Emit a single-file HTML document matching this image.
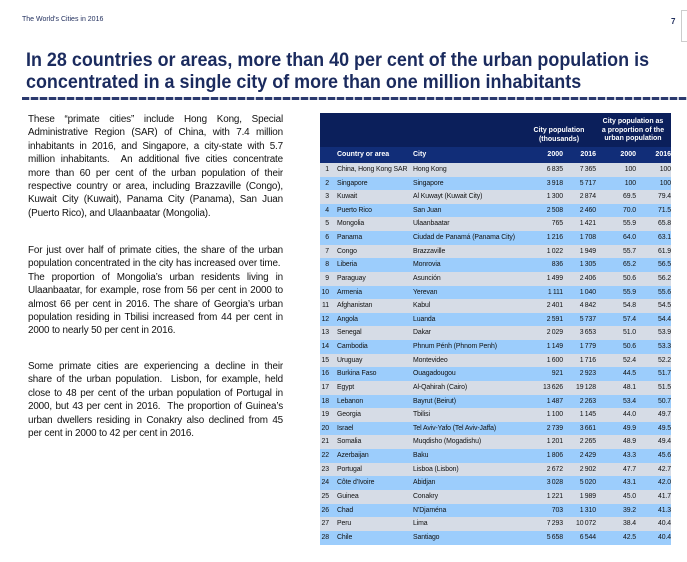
<!DOCTYPE html>
<html><head><meta charset="utf-8"><style>
body{margin:0;width:687px;height:562px;background:#fff;position:relative;overflow:hidden;font-family:"Liberation Sans",sans-serif}
.a{position:absolute;white-space:nowrap}
.p{position:absolute;left:28px;width:255px;font-size:9.9px;letter-spacing:-0.15px;line-height:13.4px;color:#111;text-align:justify}
.c{position:absolute;font-size:6.9px;letter-spacing:-0.1px;color:#111;white-space:nowrap;line-height:13.6px}
.h{position:absolute;font-size:7px;color:#fff;font-weight:bold;white-space:nowrap}
</style></head><body>
<div class="a" style="left:22px;top:16px;font-size:7px;color:#1f2d5c">The World's Cities in 2016</div>
<div class="a" style="left:671px;top:17px;font-size:8px;font-weight:bold;color:#1f2d5c">7</div>
<div style="position:absolute;left:681px;top:10px;width:6px;height:30px;border-top:1px solid #ccc;border-left:1px solid #ccc;border-bottom:1px solid #ccc"></div>
<div class="a" style="left:26px;top:49px;font-size:19.5px;line-height:22px;font-weight:bold;color:#1b2b5e;transform:scaleX(0.92);transform-origin:0 0">In 28 countries or areas, more than 40 per cent of the urban population is<br>concentrated in a single city of more than one million inhabitants</div>
<div style="position:absolute;left:22px;top:97px;width:665px;height:3px;background:repeating-linear-gradient(90deg,#2b3a6e 0 7px,#c4c9d8 7px 9px)"></div>
<div class="p" style="top:113px">These “primate cities” include Hong Kong, Special Administrative Region (SAR) of China, with 7.4 million inhabitants in 2016, and Singapore, a city-state with 5.7 million inhabitants.&nbsp; An additional five cities concentrate more than 60 per cent of the urban population of their respective country or area, including Brazzaville (Congo), Kuwait City (Kuwait), Panama City (Panama), San Juan (Puerto Rico), and Ulaanbaatar (Mongolia).</div>
<div class="p" style="top:244px">For just over half of primate cities, the share of the urban population concentrated in the city has increased over time.&nbsp; The proportion of Mongolia’s urban residents living in Ulaanbaatar, for example, rose from 56 per cent in 2000 to almost 66 per cent in 2016. The share of Georgia’s urban population residing in Tbilisi increased from 44 per cent in 2000 to nearly 50 per cent in 2016.</div>
<div class="p" style="top:360px">Some primate cities are experiencing a decline in their share of the urban population.&nbsp; Lisbon, for example, held close to 48 per cent of the urban population of Portugal in 2000, but 43 per cent in 2016.&nbsp; The proportion of Guinea’s urban dwellers residing in Conakry also declined from 45 per cent in 2000 to 42 per cent in 2016.</div>

<div id="tbl" style="position:absolute;left:320px;top:113px;width:351px;height:432px;overflow:hidden">
<div style="position:absolute;left:0;top:0;width:351px;height:34px;background:#0b1f5b"></div>
<div style="position:absolute;left:0;top:34px;width:351px;height:16px;background:#112d78"></div>
<div class="h" style="left:211px;top:14px;text-align:center;width:56px;line-height:8.5px">City population<br>(thousands)</div>
<div class="h" style="left:276px;top:5px;text-align:center;width:74px;line-height:8.5px">City population as<br>a proportion of the<br>urban population</div>
<div class="h" style="left:17px;top:38px">Country or area</div>
<div class="h" style="left:93px;top:38px">City</div>
<div class="h" style="right:108px;top:38px">2000</div>
<div class="h" style="right:75px;top:38px">2016</div>
<div class="h" style="right:35px;top:38px">2000</div>
<div class="h" style="right:0px;top:38px">2016</div>
</div>
<script>
const countries=["China, Hong Kong SAR","Singapore","Kuwait","Puerto Rico","Mongolia","Panama","Congo","Liberia","Paraguay","Armenia","Afghanistan","Angola","Senegal","Cambodia","Uruguay","Burkina Faso","Egypt","Lebanon","Georgia","Israel","Somalia","Azerbaijan","Portugal","Côte d’Ivoire","Guinea","Chad","Peru","Chile"];
const cities=["Hong Kong","Singapore","Al Kuwayt (Kuwait City)","San Juan","Ulaanbaatar","Ciudad de Panamá (Panama City)","Brazzaville","Monrovia","Asunción","Yerevan","Kabul","Luanda","Dakar","Phnum Pénh (Phnom Penh)","Montevideo","Ouagadougou","Al-Qahirah (Cairo)","Bayrut (Beirut)","Tbilisi","Tel Aviv-Yafo (Tel Aviv-Jaffa)","Muqdisho (Mogadishu)","Baku","Lisboa (Lisbon)","Abidjan","Conakry","N’Djaména","Lima","Santiago"];
const pop2000=[6835,3918,1300,2508,765,1216,1022,836,1499,1111,2401,2591,2029,1149,1600,921,13626,1487,1100,2739,1201,1806,2672,3028,1221,703,7293,5658];
const pop2016=[7365,5717,2874,2460,1421,1708,1949,1305,2406,1040,4842,5737,3653,1779,1716,2923,19128,2263,1145,3661,2265,2429,2902,5020,1989,1310,10072,6544];
const pct2000=[100,100,69.5,70.0,55.9,64.0,55.7,65.2,50.6,55.9,54.8,57.4,51.0,50.6,52.4,44.5,48.1,53.4,44.0,49.9,48.9,43.3,47.7,43.1,45.0,39.2,38.4,42.5];
const pct2016=[100,100,79.4,71.5,65.8,63.1,61.9,56.5,56.2,55.6,54.5,54.4,53.9,53.3,52.2,51.7,51.5,50.7,49.7,49.5,49.4,45.6,42.7,42.0,41.7,41.3,40.4,40.4];
const tbl=document.getElementById('tbl');
const rowTop=50,rowH=13.62;
function fmt(n){return String(n).replace(/\B(?=(\d{3})+(?!\d))/g,'\u2009');}
function pf(v){return v===100?'100':v.toFixed(1);}
countries.forEach((c,i)=>{
  const r=document.createElement('div');
  
  
  r.style.cssText=`position:absolute;left:0;width:351px;top:${rowTop+i*rowH}px;height:${rowH+0.5}px;background:${i%2?'#9ccdfc':'#d6dce6'}`;
  const cells=[[String(i+1),'right:342px'],[c,'left:17px'],[cities[i],'left:93px'],[fmt(pop2000[i]),'right:108px'],[fmt(pop2016[i]),'right:75px'],[pf(pct2000[i]),'right:35px'],[pf(pct2016[i]),'right:0px']];
  const names=['row-number','country-cell','city-cell','pop-2000-cell','pop-2016-cell','pct-2000-cell','pct-2016-cell'];
  cells.forEach((cc,j)=>{
    const d=document.createElement('div');
    
    
    d.className='c';d.style.cssText+=cc[1]+';top:0';d.textContent=cc[0];r.appendChild(d);
  });
  tbl.appendChild(r);
});
</script>
</body></html>
